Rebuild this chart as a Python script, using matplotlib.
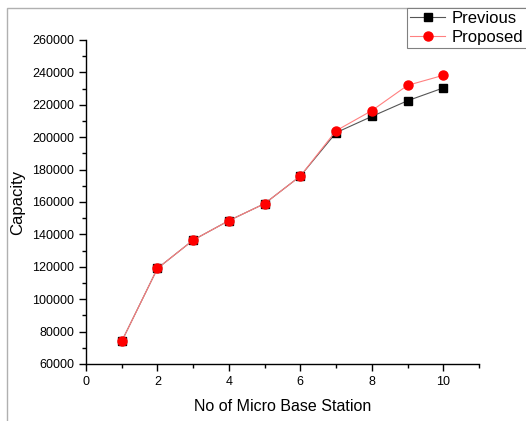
import matplotlib.pyplot as plt
from matplotlib.patches import Rectangle
from matplotlib.ticker import MultipleLocator

plt.rcParams['font.family'] = ['Liberation Sans', 'DejaVu Sans']

stations = [1, 2, 3, 4, 5, 6, 7, 8, 9, 10]
previous = [74000, 119000, 136500, 148500, 159000, 176000, 202800, 212800, 222500, 230400]
proposed = [74000, 119000, 136500, 148500, 159000, 176000, 204000, 216400, 232000, 238200]

fig = plt.figure(figsize=(5.26, 4.21), dpi=100)
ax = fig.add_axes([0.1635, 0.1354, 0.7471, 0.7696])

# outer frame
fig.patches.append(Rectangle((7 / 526, -0.1), 1.2, 1 - 8 / 421 + 0.1,
                             transform=fig.transFigure, fill=False,
                             edgecolor='#b0b0b0', linewidth=1.0))

ax.plot(stations, previous, color='#555555', linewidth=0.8, marker='s',
        markersize=5.5, markerfacecolor='black', markeredgecolor='black', label='Previous')
ax.plot(stations, proposed, color='#ff8080', linewidth=0.8, marker='o',
        markersize=6.5, markerfacecolor='red', markeredgecolor='red', label='Proposed')

ax.set_xlim(0, 11)
ax.set_ylim(60000, 260000)
ax.xaxis.set_major_locator(MultipleLocator(2))
ax.xaxis.set_minor_locator(MultipleLocator(1))
ax.yaxis.set_major_locator(MultipleLocator(20000))
ax.yaxis.set_minor_locator(MultipleLocator(10000))

for side in ['top', 'right']:
    ax.spines[side].set_visible(False)
for side in ['left', 'bottom']:
    ax.spines[side].set_linewidth(1.0)
ax.tick_params(which='major', direction='out', length=5, width=1, labelsize=9)
ax.tick_params(which='minor', direction='out', length=3, width=1)

ax.set_xlabel('No of Micro Base Station', fontsize=11.5, labelpad=8)
ax.set_ylabel('Capacity', fontsize=12, labelpad=5)

leg = fig.legend(loc='upper left', bbox_to_anchor=(407 / 526, 1 - 8 / 421),
                 fontsize=12, fancybox=False, edgecolor='#808080',
                 borderpad=0.2, handlelength=2.1, handletextpad=0.4,
                 labelspacing=0.2, borderaxespad=0, framealpha=1)
leg.get_frame().set_linewidth(0.8)

fig.savefig('out.png', dpi=100)
